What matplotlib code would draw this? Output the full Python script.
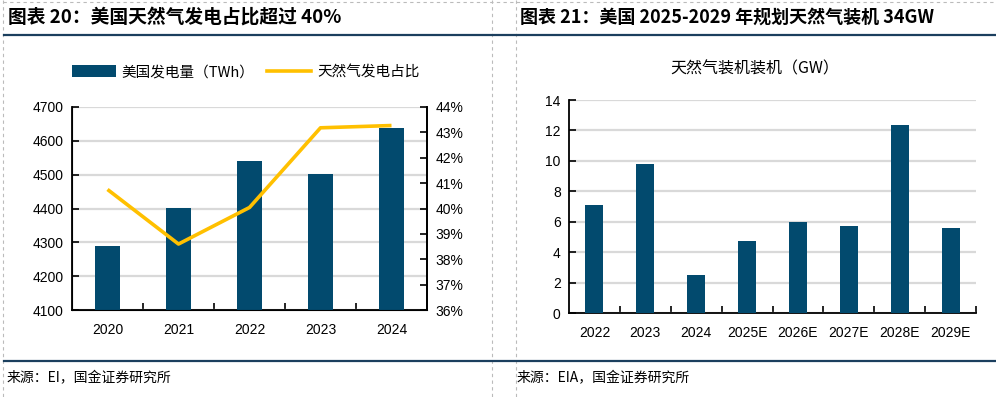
import matplotlib
matplotlib.use("Agg")
import matplotlib.pyplot as plt
from matplotlib.lines import Line2D
from matplotlib.patches import Patch

plt.rcParams['font.family'] = ['Liberation Sans', 'Noto Sans CJK SC', 'DejaVu Sans']

# ---- data ----
years_l = ['2020', '2021', '2022', '2023', '2024']
gen_twh = [4290, 4402, 4541, 4501, 4637]
gas_share = [40.75, 38.6, 40.04, 43.18, 43.27]

years_r = ['2022', '2023', '2024', '2025E', '2026E', '2027E', '2028E', '2029E']
gas_cap = [7.1, 9.8, 2.5, 4.75, 6.0, 5.73, 12.33, 5.6]

title_l = '图表 20：美国天然气发电占比超过 40%'
title_r = '图表 21：美国 2025-2029 年规划天然气装机 34GW'
src_l = '来源：EI，国金证券研究所'
src_r = '来源：EIA，国金证券研究所'

BAR = '#024A6E'
LINE = '#FFC000'
GRID = '#D9D9D9'
HEAD = '#1B3F5E'

W, H = 996, 397
fig = plt.figure(figsize=(W / 100, H / 100), dpi=100)

def fx(x):
    return x / W

def fy(y):
    return 1 - y / H

cjk = ['Noto Sans CJK SC', 'DejaVu Sans']

# frame decorations
for x in (3, 492, 516):
    fig.add_artist(Line2D([fx(x), fx(x)], [fy(0), fy(397)], color='#BBBBBB', lw=0.8, ls=(0, (3, 3))))
fig.add_artist(Line2D([fx(3), fx(996)], [fy(2), fy(2)], color='#BBBBBB', lw=0.8, ls=(0, (3, 3))))
fig.add_artist(Line2D([fx(4), fx(996)], [fy(35), fy(35)], color=HEAD, lw=1.6))
fig.add_artist(Line2D([fx(4), fx(996)], [fy(361), fy(361)], color=HEAD, lw=1.6))

fig.text(fx(8), fy(17), title_l, fontsize=13.5, fontweight='bold', family=cjk, va='center', ha='left')
fig.text(fx(520), fy(17), title_r, fontsize=13, fontweight='bold', family=cjk, va='center', ha='left')
fig.text(fx(7), fy(378), src_l, fontsize=10, family=cjk, va='center', ha='left')
fig.text(fx(517), fy(378), src_r, fontsize=10, family=cjk, va='center', ha='left')

# ---- left chart ----
ax = fig.add_axes([fx(72), fy(310), fx(427) - fx(72), fy(107) - fy(310)])
xl = range(len(years_l))
ax.bar(xl, gen_twh, width=0.34, color=BAR, zorder=3)
ax.set_ylim(4100, 4700)
ax.set_yticks(range(4100, 4701, 100))
ax.set_xlim(-0.5, len(years_l) - 0.5)
ax.set_xticks(list(xl))
ax.set_xticklabels(years_l)
ax.set_xticks([i + 0.5 for i in range(len(years_l) - 1)], minor=True)
ax.tick_params(axis='x', which='major', length=0, pad=9, labelsize=10)
ax.tick_params(axis='x', which='minor', direction='in', length=5, width=1.2)
ax.tick_params(axis='y', direction='in', length=5, width=1.2, labelsize=10, pad=6)
ax.yaxis.grid(True, color=GRID, lw=1.6, zorder=0)
ax.set_axisbelow(True)
for s in ('left', 'bottom', 'right'):
    ax.spines[s].set_linewidth(1.3)
ax.spines['top'].set_visible(False)

ax2 = ax.twinx()
ax2.plot(list(xl), gas_share, color=LINE, lw=2.6, zorder=4, solid_capstyle='butt')
ax2.set_ylim(36, 44)
ax2.set_yticks(range(36, 45, 1))
ax2.set_yticklabels([f'{v}%' for v in range(36, 45)])
ax2.tick_params(axis='y', direction='in', length=5, width=1.2, labelsize=10, pad=6)
ax2.spines['top'].set_visible(False)
ax2.spines['right'].set_linewidth(1.3)

handles = [Patch(facecolor=BAR, edgecolor='none'), Line2D([], [], color=LINE, lw=2.6)]
fig.legend(handles, ['美国发电量（TWh）', '天然气发电占比'], loc='center left',
           bbox_to_anchor=(fx(66), fy(72)), ncol=2, frameon=False,
           prop={'family': cjk, 'size': 10.5}, handlelength=3.0, handleheight=0.8,
           columnspacing=0.9, handletextpad=0.4, borderaxespad=0)

# ---- right chart ----
bx = fig.add_axes([fx(569), fy(313.3), fx(976) - fx(569), fy(100) - fy(313.3)])
xr = range(len(years_r))
bx.bar(xr, gas_cap, width=0.355, color=BAR, zorder=3)
bx.set_ylim(0, 14)
bx.set_yticks(range(0, 15, 2))
bx.set_xlim(-0.5, len(years_r) - 0.5)
bx.set_xticks(list(xr))
bx.set_xticklabels(years_r)
bx.set_xticks([i + 0.5 for i in range(len(years_r))], minor=True)
bx.tick_params(axis='x', which='major', length=0, pad=9, labelsize=10)
bx.tick_params(axis='x', which='minor', direction='in', length=5, width=1.2)
bx.tick_params(axis='y', direction='in', length=5, width=1.2, labelsize=10, pad=6)
bx.yaxis.grid(True, color=GRID, lw=1.6, zorder=0)
bx.set_axisbelow(True)
for s in ('left', 'bottom'):
    bx.spines[s].set_linewidth(1.3)
bx.spines['top'].set_visible(False)
bx.spines['right'].set_visible(False)
fig.text(fx(755), fy(69), '天然气装机装机（GW）', fontsize=11.5, family=cjk, ha='center', va='center')

fig.savefig('out.png', dpi=100)
